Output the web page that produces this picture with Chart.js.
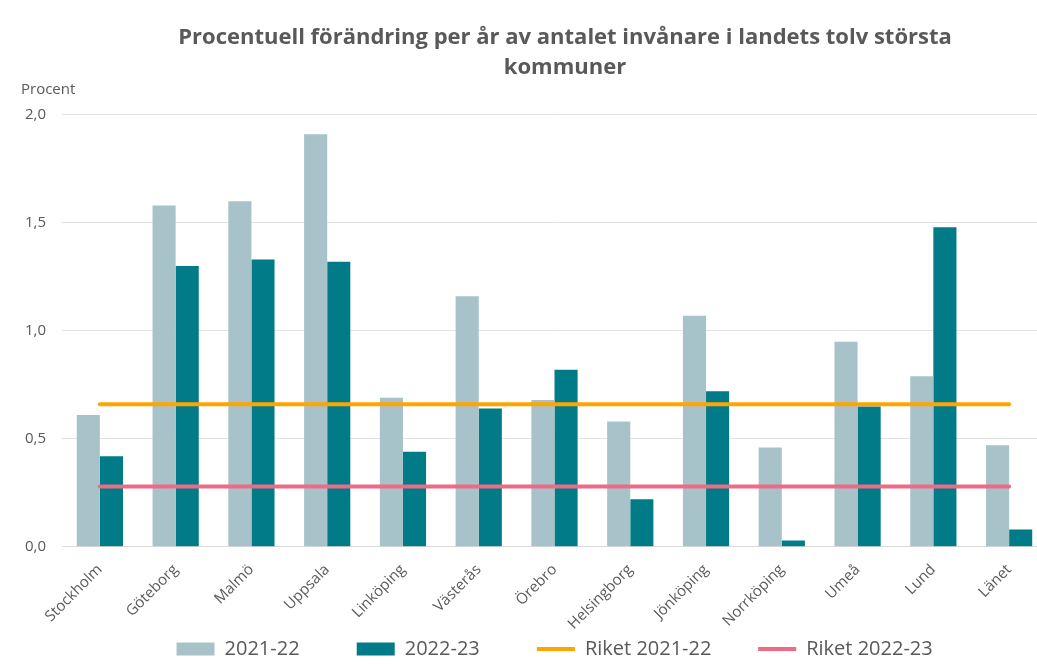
<!DOCTYPE html>
<html lang="sv">
<head>
<meta charset="utf-8">
<title>Procentuell förändring per år</title>
<script src="https://cdn.jsdelivr.net/npm/chart.js@4"></script>
<style>
  html, body { margin: 0; padding: 0; background: #fff; overflow: hidden; }
  #wrap { width: 1125px; height: 664px; }
</style>
</head>
<body>
<div id="wrap"><canvas id="grafico-kommuner"></canvas></div>
<script>
// Data
const kommuner = ["Stockholm", "Göteborg", "Malmö", "Uppsala", "Linköping", "Västerås",
    "Örebro", "Helsingborg", "Jönköping", "Norrköping", "Umeå", "Lund", "Länet"];
const varden2122 = [0.61, 1.58, 1.60, 1.91, 0.69, 1.16, 0.68, 0.58, 1.07, 0.46, 0.95, 0.79, 0.47];
const varden2223 = [0.42, 1.30, 1.33, 1.32, 0.44, 0.64, 0.82, 0.22, 0.72, 0.03, 0.65, 1.48, 0.08];
const riket2122 = 0.66;
const riket2223 = 0.28;
const yTicks = [0, 0.5, 1.0, 1.5, 2.0];

const gra = "#595959";
const typsnitt = "'Open Sans', 'Noto Sans', sans-serif";
// extra luft efter varje legendpost (antal mellanslag)
const legendLuft = [11, 11, 9, 4];

// "Procent" ovanför y-axeln
const procentEtikett = {
    id: "procentEtikett",
    afterDraw(chart) {
        const ctx = chart.ctx;
        ctx.save();
        ctx.font = "15px " + typsnitt;
        ctx.fillStyle = gra;
        ctx.textBaseline = "middle";
        ctx.textAlign = "left";
        ctx.fillText("Procent", 21, 90);
        ctx.restore();
    }
};

const ctx = document.getElementById("grafico-kommuner").getContext("2d");
new Chart(ctx, {
    type: "bar",
    data: {
        labels: kommuner,
        datasets: [
            {
                label: "2021-22",
                data: varden2122,
                backgroundColor: "#a7c3c9",
                borderWidth: 0,
                order: 1,
            },
            {
                label: "2022-23",
                data: varden2223,
                backgroundColor: "#007b87",
                borderWidth: 0,
                order: 1,
            },
            {
                type: "line",
                label: "Riket 2021-22",
                data: kommuner.map(() => riket2122),
                borderColor: "#ffa500",
                backgroundColor: "#ffa500",
                borderWidth: 4,
                pointRadius: 0,
                borderCapStyle: "round",
                fill: false,
                order: 0,
            },
            {
                type: "line",
                label: "Riket 2022-23",
                data: kommuner.map(() => riket2223),
                borderColor: "#ef6a85",
                backgroundColor: "#ef6a85",
                borderWidth: 4,
                pointRadius: 0,
                borderCapStyle: "round",
                fill: false,
                order: 0,
            },
        ],
    },
    options: {
        responsive: true,
        maintainAspectRatio: false,
        animation: false,
        layout: { padding: { top: 8, left: 20, right: 15, bottom: -5 } },
        datasets: {
            bar: { categoryPercentage: 0.61, barPercentage: 1.0 },
        },
        plugins: {
            title: {
                display: true,
                text: ["Procentuell förändring per år av antalet invånare i landets tolv största", "kommuner"],
                color: gra,
                font: { family: typsnitt, size: 22, weight: "bold", lineHeight: 1.36 },
                padding: { top: 15, bottom: 32 },
            },
            legend: {
                position: "bottom",
                labels: {
                    color: gra,
                    font: { family: typsnitt, size: 20 },
                    boxWidth: 38,
                    boxHeight: 13,
                    usePointStyle: true,
                    pointStyleWidth: 38,
                    padding: 0,
                    sort: (a, b) => a.datasetIndex - b.datasetIndex,
                    generateLabels(chart) {
                        const items = Chart.defaults.plugins.legend.labels.generateLabels(chart);
                        items.forEach((it) => {
                            const ds = chart.data.datasets[it.datasetIndex];
                            it.text = ds.label + " ".repeat(legendLuft[it.datasetIndex]);
                            if (ds.type === "line") {
                                it.pointStyle = "line";
                                it.lineWidth = 4;
                                it.strokeStyle = ds.borderColor;
                            } else {
                                it.pointStyle = "rect";
                                it.lineWidth = 0;
                            }
                        });
                        return items;
                    },
                },
            },
            tooltip: { enabled: false },
        },
        scales: {
            x: {
                grid: { display: false },
                border: { color: "#d9d9d9" },
                ticks: {
                    color: gra,
                    font: { family: typsnitt, size: 15 },
                    minRotation: 45,
                    maxRotation: 45,
                    padding: 6,
                },
            },
            y: {
                min: 0,
                max: 2,
                afterBuildTicks(axis) {
                    axis.ticks = yTicks.map((v) => ({ value: v }));
                },
                afterFit(axis) {
                    axis.width = 42;
                },
                grid: { color: "#e3e3e3", drawTicks: false },
                border: { display: false },
                ticks: {
                    color: gra,
                    font: { family: typsnitt, size: 15 },
                    padding: 16,
                    callback: (v) => v.toFixed(1).replace(".", ","),
                },
            },
            // tom axel till höger, bara för att titeln ska hamna rätt
            hoger: {
                type: "linear",
                position: "right",
                min: 0,
                max: 2,
                afterFit(axis) {
                    axis.width = 63;
                },
                grid: { display: false },
                border: { display: false },
                ticks: { display: false },
            },
        },
    },
    plugins: [procentEtikett],
});
</script>
</body>
</html>
